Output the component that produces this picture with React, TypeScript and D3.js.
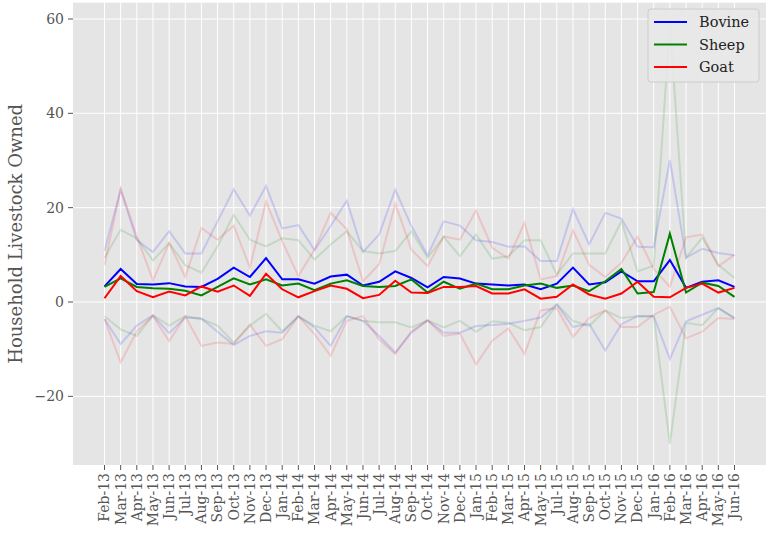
import React from 'react';
import * as d3 from 'd3';

const months = [
  'Feb-13', 'Mar-13', 'Apr-13', 'May-13', 'Jun-13', 'Jul-13', 'Aug-13', 'Sep-13', 'Oct-13', 'Nov-13',
  'Dec-13', 'Jan-14', 'Feb-14', 'Mar-14', 'Apr-14', 'May-14', 'Jun-14', 'Jul-14', 'Aug-14', 'Sep-14',
  'Oct-14', 'Nov-14', 'Dec-14', 'Jan-15', 'Feb-15', 'Mar-15', 'Apr-15', 'May-15', 'Jul-15', 'Aug-15',
  'Sep-15', 'Oct-15', 'Nov-15', 'Dec-15', 'Jan-16', 'Feb-16', 'Mar-16', 'Apr-16', 'May-16', 'Jun-16',
];

const bovine = [3.3, 7.0, 3.8, 3.7, 4.0, 3.3, 3.2, 4.9, 7.3, 5.3, 9.3, 4.8, 4.8, 3.9, 5.4, 5.8, 3.5, 4.3, 6.5, 5.1,
  3.1, 5.3, 5.0, 3.9, 3.7, 3.5, 3.7, 2.7, 3.9, 7.3, 3.7, 4.2, 6.5, 4.4, 4.4, 8.9, 3.0, 4.3, 4.6, 3.2];
const bovineHi = [10.8, 23.8, 13.1, 10.6, 15.0, 10.3, 10.3, 17.1, 23.9, 18.3, 24.6, 15.6, 16.3, 11.0, 16.1, 21.5, 10.6, 14.3, 23.8, 16.1,
  9.9, 17.1, 16.2, 13.1, 12.7, 11.7, 11.8, 8.7, 8.7, 19.7, 12.2, 18.9, 17.7, 11.7, 11.6, 30.1, 9.4, 11.3, 10.4, 9.9];
const bovineLo = [-3.6, -8.9, -5.0, -2.8, -6.6, -3.3, -3.5, -6.3, -9.1, -7.2, -6.2, -6.5, -3.0, -5.4, -9.3, -3.0, -4.0, -7.2, -10.7, -6.5,
  -3.9, -6.5, -6.5, -5.1, -4.9, -4.6, -4.0, -3.3, -0.5, -5.3, -4.6, -10.3, -4.7, -3.0, -3.0, -12.1, -4.1, -2.7, -1.3, -3.4];

const sheep = [3.2, 5.0, 3.2, 2.9, 2.8, 2.4, 1.4, 3.2, 5.0, 3.7, 4.8, 3.5, 3.9, 2.5, 3.9, 4.6, 3.4, 3.2, 3.4, 4.8,
  2.0, 4.3, 2.8, 3.9, 2.7, 2.7, 3.5, 3.9, 3.0, 3.5, 2.3, 4.4, 7.0, 1.8, 2.1, 14.5, 2.0, 4.1, 3.4, 1.1];
const sheepHi = [9.4, 15.3, 13.5, 8.8, 12.5, 7.8, 6.2, 11.8, 18.5, 13.2, 11.8, 13.5, 13.1, 9.0, 12.2, 15.0, 10.8, 10.3, 10.8, 15.0,
  9.4, 13.8, 9.7, 14.3, 9.2, 9.7, 13.1, 13.1, 5.8, 10.3, 10.3, 10.3, 17.1, 6.5, 7.7, 59.0, 9.4, 13.6, 7.9, 5.1];
const sheepLo = [-3.0, -5.8, -7.2, -2.8, -5.0, -3.0, -3.6, -5.0, -8.6, -5.0, -2.5, -6.2, -3.1, -5.0, -6.2, -3.0, -4.0, -4.3, -4.3, -5.4,
  -3.9, -5.4, -4.0, -6.3, -4.1, -4.4, -6.0, -5.3, -0.5, -4.0, -5.1, -1.8, -3.4, -3.0, -3.0, -30.1, -4.4, -4.9, -1.3, -3.4];

const goat = [0.8, 5.5, 2.3, 1.0, 2.2, 1.4, 3.3, 2.2, 3.5, 1.3, 6.0, 2.7, 1.0, 2.3, 3.5, 2.8, 0.8, 1.5, 4.5, 2.0,
  1.9, 3.2, 3.2, 3.4, 1.8, 1.8, 2.7, 0.7, 1.1, 3.7, 1.6, 0.7, 1.8, 4.3, 1.1, 1.0, 3.0, 3.9, 2.0, 3.0];
const goatHi = [7.8, 24.0, 13.9, 4.6, 12.5, 5.3, 15.7, 13.2, 16.2, 7.3, 21.3, 12.9, 5.5, 11.1, 18.9, 15.4, 4.4, 8.0, 20.8, 11.1,
  7.6, 13.9, 13.2, 19.4, 11.5, 9.2, 16.8, 4.8, 5.5, 15.2, 7.9, 5.3, 8.3, 13.9, 7.0, 3.2, 13.7, 14.3, 7.6, 10.0];
const goatLo = [-3.6, -12.8, -6.2, -3.0, -8.3, -3.0, -9.3, -8.6, -8.9, -4.8, -9.3, -7.9, -3.0, -6.8, -11.4, -4.0, -3.0, -7.9, -11.0, -6.2,
  -3.9, -7.2, -6.7, -13.2, -8.2, -5.6, -11.0, -1.8, -1.3, -7.4, -3.4, -1.8, -5.3, -5.3, -2.7, -1.0, -7.7, -6.3, -3.4, -3.6];

const yTicks = [-20, 0, 20, 40, 60];

const series = [
  { name: 'Bovine', color: 'blue', mean: bovine, hi: bovineHi, lo: bovineLo },
  { name: 'Sheep', color: 'green', mean: sheep, hi: sheepHi, lo: sheepLo },
  { name: 'Goat', color: 'red', mean: goat, hi: goatHi, lo: goatLo },
];

const W = 768, H = 539;
const plot = { left: 73, right: 766, top: 2.7, bottom: 465 };
const font = '"DejaVu Serif", serif';

export default function App() {
  const n = months.length;
  const pad = (n - 1) * 0.05;
  const x = d3.scaleLinear().domain([-pad, n - 1 + pad]).range([plot.left, plot.right]);

  const all = series.flatMap(s => [...s.mean, ...s.hi, ...s.lo]);
  const [lo, hi] = d3.extent(all) as [number, number];
  const yp = (hi - lo) * 0.05;
  const y = d3.scaleLinear().domain([lo - yp, hi + yp]).range([plot.bottom, plot.top]);

  const line = d3.line<number>().x((d, i) => x(i)).y(d => y(d));

  return (
    <svg width={W} height={H} style={{ position: 'absolute', left: 0, top: 0 }} fontFamily={font}>
      <defs>
        <clipPath id="clip">
          <rect x={plot.left} y={plot.top} width={plot.right - plot.left} height={plot.bottom - plot.top} />
        </clipPath>
      </defs>
      <rect x={plot.left} y={plot.top} width={plot.right - plot.left} height={plot.bottom - plot.top} fill="#E5E5E5" />
      {months.map((m, i) => (
        <line key={m} x1={x(i)} x2={x(i)} y1={plot.top} y2={plot.bottom} stroke="#fff" strokeWidth={1} />
      ))}
      {yTicks.map(t => (
        <line key={t} x1={plot.left} x2={plot.right} y1={y(t)} y2={y(t)} stroke="#fff" strokeWidth={1} />
      ))}

      <g clipPath="url(#clip)">
        {series.map(s => (
          <g key={s.name + 'band'}>
            <path d={line(s.hi)!} fill="none" stroke={s.color} strokeOpacity={0.14} strokeWidth={2} />
            <path d={line(s.lo)!} fill="none" stroke={s.color} strokeOpacity={0.14} strokeWidth={2} />
          </g>
        ))}
        {series.map(s => (
          <path key={s.name} d={line(s.mean)!} fill="none" stroke={s.color} strokeWidth={2} />
        ))}
      </g>

      {/* y axis */}
      {yTicks.map(t => (
        <g key={'yt' + t}>
          <line x1={plot.left - 5} x2={plot.left} y1={y(t)} y2={y(t)} stroke="#555" strokeWidth={1} />
          <text x={plot.left - 9} y={y(t)} dy="0.35em" textAnchor="end" fontSize={14} fill="#555">
            {t < 0 ? '\u2212' + Math.abs(t) : t}
          </text>
        </g>
      ))}
      <text transform={`translate(16,${(plot.top + plot.bottom) / 2}) rotate(-90)`} textAnchor="middle"
        dy="0.35em" fontSize={18} fill="#555">Household Livestock Owned</text>

      {/* x axis */}
      {months.map((m, i) => (
        <g key={'xt' + m}>
          <line x1={x(i)} x2={x(i)} y1={plot.bottom} y2={plot.bottom + 5} stroke="#555" strokeWidth={1} />
          <text transform={`translate(${x(i)},${plot.bottom + 8}) rotate(-90)`} textAnchor="end" dy="0.35em"
            fontSize={14} fill="#555">{m}</text>
        </g>
      ))}

      {/* legend */}
      <rect x={648} y={9} width={111} height={73} rx={3} fill="#E8E8E8" fillOpacity={0.9} stroke="#CCCCCC" />
      {series.map((s, i) => (
        <g key={'lg' + s.name} transform={`translate(654,${22 + i * 22.5})`}>
          <line x1={0} x2={33} y1={0} y2={0} stroke={s.color} strokeWidth={2} />
          <text x={45} y={0} dy="0.35em" fontSize={14.5} fill="#222">{s.name}</text>
        </g>
      ))}
    </svg>
  );
}
